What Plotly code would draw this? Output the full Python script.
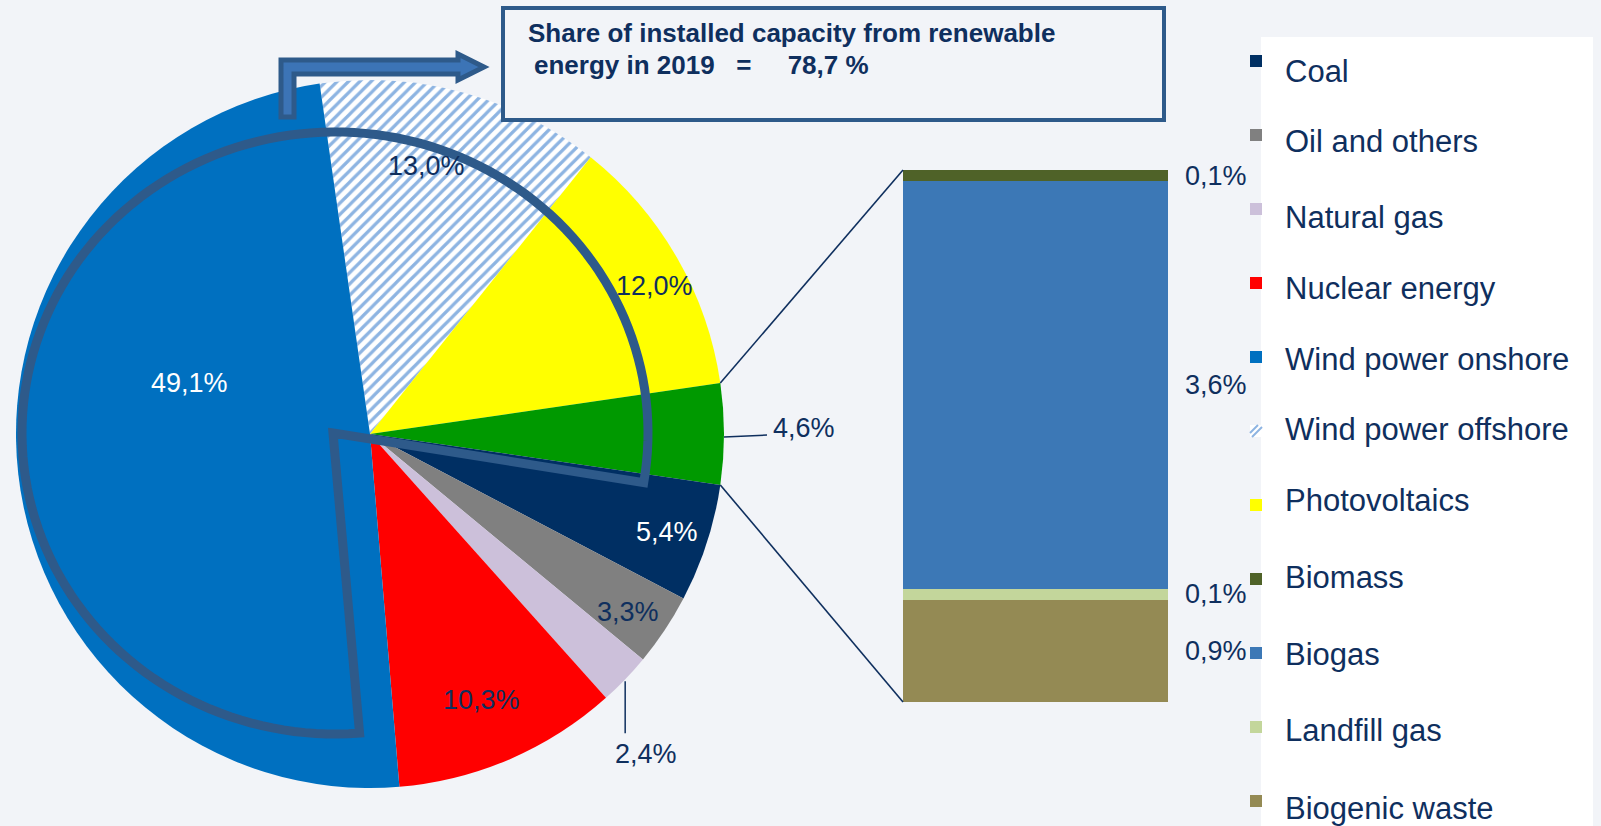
import math
import plotly.graph_objects as go

# ---------------- data ----------------
pie_labels = ["Wind power offshore", "Photovoltaics", "Other renewables", "Coal",
              "Oil and others", "Natural gas", "Nuclear energy", "Wind power onshore"]
pie_values = [13.0, 12.0, 4.6, 5.4, 3.3, 2.4, 10.3, 49.1]
pie_text = ["13,0%", "12,0%", "4,6%", "5,4%", "3,3%", "2,4%", "10,3%", "49,1%"]
pie_colors = ["#FFFFFF", "#FFFF00", "#009900", "#002F63", "#808080", "#CCC0DA", "#FF0000", "#0070C0"]

bar_labels = ["Biogenic waste", "Landfill gas", "Biogas", "Biomass"]
bar_values = [0.9, 0.1, 3.6, 0.1]
bar_text = ["0,9%", "0,1%", "3,6%", "0,1%"]
bar_colors = ["#948A54", "#C3D69B", "#3C78B6", "#4F6228"]

legend_labels = ["Coal", "Oil and others", "Natural gas", "Nuclear energy", "Wind power onshore",
                 "Wind power offshore", "Photovoltaics", "Biomass", "Biogas", "Landfill gas",
                 "Biogenic waste"]

title_line1 = "Share of installed capacity from renewable"
title_line2 = "energy in 2019\u00a0\u00a0\u00a0=\u00a0\u00a0\u00a0\u00a0 78,7 %"

# ---------------- style ----------------
W, H = 1601, 826
BG = "#F2F4F8"
NAVY = "#0F2F5E"
STEEL = "#2E5A8A"
FONT = "Liberation Sans, Arial, sans-serif"
CX, CY, R = 370, 434, 354          # pie centre / radius in pixels
BAR_X0, BAR_X1, BAR_TOP, BAR_BOT = 903, 1168, 170, 702

# per-label placement style: (angle offset deg, radius fraction, colour)
inside_style = {
    "13,0%": (-3.2, 0.774, NAVY),
    "12,0%": (2.4, 0.905, NAVY),
    "5,4%": (0.3, 0.885, "white"),
    "3,3%": (1.0, 0.885, NAVY),
    "10,3%": (0.5, 0.816, NAVY),
    "49,1%": (22.3, 0.53, "white"),
}


def px(x):
    return x / W


def py(y):
    return 1 - y / H


total = sum(pie_values)
deg_per = 360.0 / total
rotation = 90 - (pie_values[0] + pie_values[1] + pie_values[2] / 2) * deg_per
starts, ends, mids = [], [], []
a = rotation
for v in pie_values:
    starts.append(a)
    mids.append(a + v * deg_per / 2)
    a += v * deg_per
    ends.append(a)


def polar(angle, r):
    t = math.radians(angle)
    return CX + r * math.sin(t), CY - r * math.cos(t)


fig = go.Figure()

fig.add_trace(go.Pie(
    labels=pie_labels, values=pie_values, sort=False, direction="clockwise",
    rotation=rotation, textinfo="none", hoverinfo="skip", showlegend=False,
    marker=dict(colors=pie_colors, line=dict(width=0),
                pattern=dict(shape=["/", "", "", "", "", "", "", ""], fgcolor="#8DB4E2",
                             fillmode="overlay", fgopacity=1, size=8, solidity=0.4)),
    domain=dict(x=[px(CX - R), px(CX + R)], y=[py(CY + R), py(CY - R)]),
))

bar_total = sum(bar_values)
for lab, v, c in zip(bar_labels, bar_values, bar_colors):
    fig.add_trace(go.Bar(x=[0], y=[v], name=lab, marker=dict(color=c, line=dict(width=0)),
                         showlegend=False, hoverinfo="skip"))

shapes = []
annotations = []

# legend white panel
shapes.append(dict(type="rect", xref="paper", yref="paper", x0=px(1261), x1=px(1593),
                   y0=py(37), y1=py(840), fillcolor="white", line=dict(width=0), layer="below"))

# pie labels
for i, t in enumerate(pie_text):
    if t in inside_style:
        off, rf, col = inside_style[t]
        x, y = polar(mids[i] + off, R * rf)
        annotations.append(dict(x=px(x), y=py(y), xref="paper", yref="paper", text=t,
                                showarrow=False, xanchor="center", yanchor="middle",
                                font=dict(family=FONT, size=27, color=col)))

# outside label for "other" slice
ex, ey = polar(mids[2], R)
ox, oy = polar(mids[2], R + 43)
shapes.append(dict(type="line", xref="paper", yref="paper", x0=px(ex), y0=py(ey + 3),
                   x1=px(ox), y1=py(oy + 1), line=dict(color=NAVY, width=1.5)))
annotations.append(dict(x=px(ox + 4), y=py(ey - 6), xref="paper", yref="paper", text=pie_text[2],
                        showarrow=False, xanchor="left", yanchor="middle",
                        font=dict(family=FONT, size=27, color=NAVY)))
# outside label for natural gas
gx, gy = polar(mids[5], R)
shapes.append(dict(type="line", xref="paper", yref="paper", x0=px(gx), y0=py(gy + 2),
                   x1=px(gx), y1=py(gy + 54), line=dict(color=NAVY, width=1.5)))
annotations.append(dict(x=px(gx + 21), y=py(gy + 75), xref="paper", yref="paper", text=pie_text[5],
                        showarrow=False, xanchor="center", yanchor="middle",
                        font=dict(family=FONT, size=27, color=NAVY)))

# connector lines pie -> bar
p1 = polar(ends[1], R)
p2 = polar(ends[2], R)
shapes.append(dict(type="line", xref="paper", yref="paper", x0=px(p1[0]), y0=py(p1[1]),
                   x1=px(BAR_X0), y1=py(BAR_TOP), line=dict(color=NAVY, width=1.6)))
shapes.append(dict(type="line", xref="paper", yref="paper", x0=px(p2[0]), y0=py(p2[1]),
                   x1=px(BAR_X0), y1=py(BAR_BOT), line=dict(color=NAVY, width=1.6)))

# bar labels
cum = 0
for v, t in zip(bar_values, bar_text):
    annotations.append(dict(x=px(BAR_X1 + 15), y=cum + v / 2, xref="paper", yref="y", text=t,
                            showarrow=False, xanchor="left", yanchor="middle",
                            font=dict(family=FONT, size=27, color=NAVY)))
    cum += v

# renewable outline (elliptic sector)
ecx, ecy, ea, eb = 335, 433, 313, 301
pts = [(333, 433)]
th = 9.5
while th > -274.5:
    t = math.radians(th)
    pts.append((ecx + ea * math.cos(t), ecy + eb * math.sin(t)))
    th -= 2
t = math.radians(-274.5)
pts.append((ecx + ea * math.cos(t), ecy + eb * math.sin(t)))
path = "M " + " L ".join(f"{px(x):.5f},{py(y):.5f}" for x, y in pts) + " Z"
shapes.append(dict(type="path", xref="paper", yref="paper", path=path,
                   line=dict(color=STEEL, width=9), fillcolor="rgba(0,0,0,0)"))

# bent arrow
arrow = [(281, 117), (281, 60), (458, 60), (458, 54), (484, 67), (458, 80), (458, 74),
         (294, 74), (294, 117)]
apath = "M " + " L ".join(f"{px(x):.5f},{py(y):.5f}" for x, y in arrow) + " Z"
shapes.append(dict(type="path", xref="paper", yref="paper", path=apath,
                   line=dict(color=STEEL, width=5), fillcolor="#3C74B6"))

# title box
shapes.append(dict(type="rect", xref="paper", yref="paper", x0=px(503), x1=px(1164),
                   y0=py(120), y1=py(8), line=dict(color=STEEL, width=4), fillcolor=BG))
annotations.append(dict(x=px(526), y=py(33), xref="paper", yref="paper", text="<b>" + title_line1 + "</b>",
                        showarrow=False, xanchor="left", yanchor="middle",
                        font=dict(family=FONT, size=26, color=NAVY)))
annotations.append(dict(x=px(532), y=py(65), xref="paper", yref="paper", text="<b>" + title_line2 + "</b>",
                        showarrow=False, xanchor="left", yanchor="middle",
                        font=dict(family=FONT, size=26, color=NAVY)))

# manual legend
color_of = dict(zip(pie_labels, pie_colors))
color_of.update(dict(zip(bar_labels, bar_colors)))
text_y = [71, 141, 218, 288, 359, 429, 500, 577, 654, 730, 808]
for i, lab in enumerate(legend_labels):
    my = 61 + 74 * i
    if lab == "Wind power offshore":
        shapes.append(dict(type="rect", xref="paper", yref="paper", x0=px(1250), x1=px(1262),
                           y0=py(my + 6), y1=py(my - 6), fillcolor="white", line=dict(width=0)))
        for d in (-4, 2):
            shapes.append(dict(type="line", xref="paper", yref="paper",
                               x0=px(1250 + max(0, d)), y0=py(my + 6 - max(0, -d)),
                               x1=px(1262 + min(0, d)), y1=py(my - 6 - min(0, -d) if d < 0 else my - 6 + d),
                               line=dict(color="#8DB4E2", width=2)))
    else:
        shapes.append(dict(type="rect", xref="paper", yref="paper", x0=px(1250), x1=px(1262),
                           y0=py(my + 6), y1=py(my - 6), fillcolor=color_of[lab], line=dict(width=0)))
    annotations.append(dict(x=px(1283), y=py(text_y[i]), xref="paper", yref="paper", text=lab,
                            showarrow=False, xanchor="left", yanchor="middle",
                            font=dict(family=FONT, size=31, color=NAVY)))

fig.update_layout(
    width=W, height=H, autosize=False,
    margin=dict(l=0, r=0, t=0, b=0, pad=0),
    paper_bgcolor=BG, plot_bgcolor="rgba(0,0,0,0)",
    barmode="stack", bargap=0,
    xaxis=dict(domain=[px(BAR_X0), px(BAR_X1)], range=[-0.5, 0.5], visible=False, fixedrange=True),
    yaxis=dict(domain=[py(BAR_BOT), py(BAR_TOP)], range=[0, bar_total], visible=False, fixedrange=True),
    shapes=shapes, annotations=annotations, showlegend=False,
)

fig.write_html("out.html")
